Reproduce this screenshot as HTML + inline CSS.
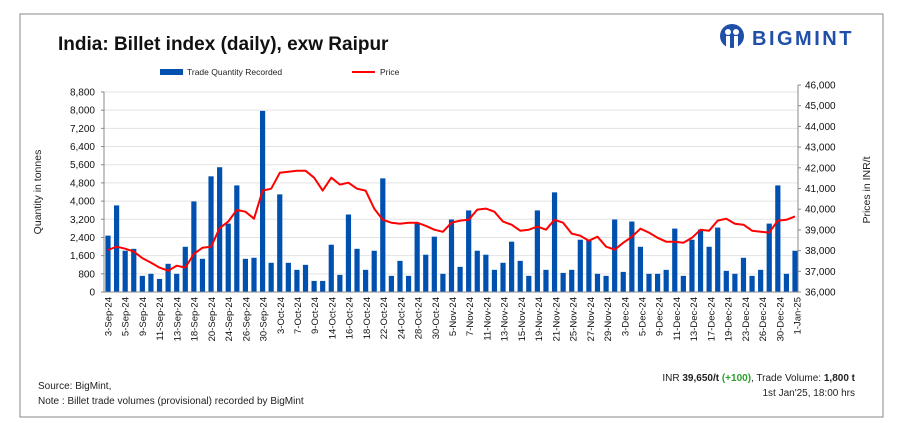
<!DOCTYPE html>
<html><head><meta charset="utf-8"><style>
body{margin:0;background:#fff;font-family:"Liberation Sans",Arial,sans-serif;}
svg text{font-family:"Liberation Sans",Arial,sans-serif;}
</style></head><body>
<svg id="chart" width="910" height="439" xmlns="http://www.w3.org/2000/svg">
<rect x="20" y="14" width="863" height="403" fill="#fff" stroke="#8a8a8a" stroke-width="1"/>
<text x="58" y="50" font-size="19" font-weight="bold" fill="#111">India: Billet index (daily), exw Raipur</text>
<g>
<circle cx="732" cy="36" r="12" fill="#1f4fa8"/>
<circle cx="728" cy="32" r="3" fill="#fff"/><circle cx="736" cy="32" r="3" fill="#fff"/>
<rect x="726" y="36" width="4" height="12" fill="#fff"/><rect x="734" y="36" width="4" height="12" fill="#fff"/>
<text x="752" y="45" font-size="20" font-weight="bold" fill="#1f4fa8" letter-spacing="2.5">BIGMINT</text>
</g>
<g>
<rect x="160" y="69" width="23" height="6" fill="#0050b0"/>
<text x="187" y="75" font-size="8.5" fill="#222">Trade Quantity Recorded</text>
<line x1="352" y1="72" x2="375" y2="72" stroke="#f00" stroke-width="2"/>
<text x="380" y="75" font-size="8.5" fill="#222">Price</text>
</g>
<g id="grid"></g><g id="bars"></g><g id="line"></g><g id="axes"></g>
<text transform="translate(41,192) rotate(-90)" text-anchor="middle" font-size="10.5" fill="#222">Quantity in tonnes</text>
<text transform="translate(870,190) rotate(-90)" text-anchor="middle" font-size="10.5" fill="#222">Prices in INR/t</text>
<text x="38" y="389" font-size="10" fill="#222">Source: BigMint,</text>
<text x="38" y="404" font-size="10" fill="#222">Note : Billet trade volumes (provisional) recorded by BigMint</text>
<text x="855" y="381" text-anchor="end" font-size="10" fill="#222">INR <tspan font-weight="bold">39,650/t</tspan> <tspan fill="#2ca02c" font-weight="bold">(+100)</tspan>, Trade Volume: <tspan font-weight="bold">1,800 t</tspan></text>
<text x="855" y="396" text-anchor="end" font-size="10" fill="#222">1st Jan'25, 18:00 hrs</text>
</svg>
<script>
const quantities=[2480,3810,1815,1900,710,800,575,1240,800,1990,3985,1460,5090,5490,3010,4690,1460,1505,7970,1285,4295,1285,975,1195,487,487,2080,753,3410,1900,975,1815,5000,710,1370,710,3055,1640,2435,800,3190,1107,3590,1815,1640,975,1285,2215,1370,710,3590,975,4385,840,975,2300,2300,800,710,3190,885,3100,1990,800,800,975,2790,710,2300,2745,1990,2835,930,800,1505,710,975,3010,4690,800,1815];
const prices=[38030,38190,38090,37950,37640,37420,37180,37030,37270,37180,37840,38140,38190,39080,39400,39960,39880,39540,40900,40990,41760,41810,41860,41860,41520,40900,41520,41190,41280,40990,40900,40030,39490,39350,39300,39350,39350,39200,39010,38910,39350,39450,39490,39980,40030,39880,39400,39250,38960,39010,39160,39010,39490,39350,38820,38720,38480,38670,38190,38050,38380,38660,39060,38870,38620,38430,38430,38380,38620,39010,38960,39450,39540,39300,39250,38960,38910,38870,39450,39490,39650];
const dateLabels=["3-Sep-24","5-Sep-24","9-Sep-24","11-Sep-24","13-Sep-24","18-Sep-24","20-Sep-24","24-Sep-24","26-Sep-24","30-Sep-24","3-Oct-24","7-Oct-24","9-Oct-24","14-Oct-24","16-Oct-24","18-Oct-24","22-Oct-24","24-Oct-24","28-Oct-24","30-Oct-24","5-Nov-24","7-Nov-24","11-Nov-24","13-Nov-24","15-Nov-24","19-Nov-24","21-Nov-24","25-Nov-24","27-Nov-24","29-Nov-24","3-Dec-24","5-Dec-24","9-Dec-24","11-Dec-24","13-Dec-24","17-Dec-24","19-Dec-24","23-Dec-24","26-Dec-24","30-Dec-24","1-Jan-25"];
const leftTicks=[0,800,1600,2400,3200,4000,4800,5600,6400,7200,8000,8800];
const rightTicks=[36000,37000,38000,39000,40000,41000,42000,43000,44000,45000,46000];
const NS="http://www.w3.org/2000/svg";
const X0=104,X1=798,Y0=292,YT=92,YR=85;
const yL=v=>Y0-(v/8800)*(Y0-YT);
const yR=v=>Y0-((v-36000)/10000)*(Y0-YR);
const xBar=i=>108+i*(795-108)/(quantities.length-1);
const xLab=i=>108+i*(797-108)/(dateLabels.length-1);
function mk(tag,attrs,parent,txt){const e=document.createElementNS(NS,tag);for(const k in attrs)e.setAttribute(k,attrs[k]);if(txt!==undefined)e.textContent=txt;document.getElementById(parent).appendChild(e);return e;}
leftTicks.forEach(v=>{
  const g=mk('line',{x1:X0,x2:X1,y1:yL(v),y2:yL(v),stroke:'#e3e3e3','stroke-width':1},'grid');
  
  
  const t=mk('text',{x:95,y:yL(v)+3.5,'text-anchor':'end','font-size':10,fill:'#111'},'axes',v.toLocaleString('en-US'));
  
  
  mk('line',{x1:X0-3,x2:X0,y1:yL(v),y2:yL(v),stroke:'#888'},'axes');
});
rightTicks.forEach(v=>{
  const t=mk('text',{x:805,y:yR(v)+3.5,'font-size':10,fill:'#111'},'axes',v.toLocaleString('en-US'));
  
  
  mk('line',{x1:X1,x2:X1+3,y1:yR(v),y2:yR(v),stroke:'#888'},'axes');
});
mk('line',{x1:X0,x2:X0,y1:YT,y2:Y0,stroke:'#888'},'axes');
mk('line',{x1:X1,x2:X1,y1:YR,y2:Y0,stroke:'#888'},'axes');
mk('line',{x1:X0,x2:X1,y1:Y0,y2:Y0,stroke:'#888'},'axes');
quantities.forEach((v,i)=>{
  const b=mk('rect',{x:xBar(i)-2.6,y:yL(v),width:5.2,height:Y0-yL(v),fill:'#0050b0'},'bars');
  
  
});
const pts=prices.map((v,i)=>xBar(i).toFixed(1)+','+yR(v).toFixed(1)).join(' ');
const pl=mk('polyline',{points:pts,fill:'none',stroke:'#f00','stroke-width':2,'stroke-linejoin':'round'},'line');


dateLabels.forEach((s,i)=>{
  const x=xLab(i);
  const t=mk('text',{transform:'translate('+(x+3.5)+',297) rotate(-90)','text-anchor':'end','font-size':9.5,fill:'#111'},'axes',s);
  
  
});
</script>
</body></html>
